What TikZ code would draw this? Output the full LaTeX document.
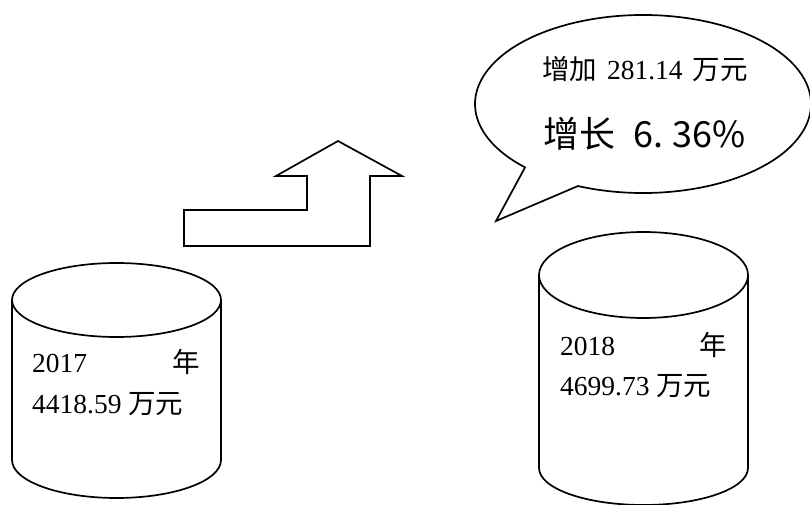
\documentclass[tikz,border=0pt]{standalone}
\usepackage{fontspec}
\usetikzlibrary{calc}
\setmainfont{Liberation Serif}
\newfontfamily\cjk{Noto Sans CJK SC}
\begin{document}
\begin{tikzpicture}[x=1pt,y=1pt,
  outline/.style={draw=black,line width=1.7pt,line join=miter},
  lbl/.style={inner sep=0pt,font=\fontsize{27.5}{32}\selectfont},
  big/.style={inner sep=0pt,font=\fontsize{36}{42}\selectfont\cjk}]
\useasboundingbox (0,0) rectangle (810,504);
% left cylinder
\coordinate (c1t) at (116.5,204);
\coordinate (c1b) at (116.5,44);
\draw[outline] (c1t) ellipse[x radius=104.5,y radius=37];
\draw[outline] ([xshift=-104.5pt]c1t) -- ([xshift=-104.5pt]c1b)
  arc[start angle=180,end angle=360,x radius=104.5,y radius=38]
  -- ([xshift=104.5pt]c1t);
% right cylinder
\coordinate (c2t) at (643.5,229);
\coordinate (c2b) at (643.5,36);
\draw[outline] (c2t) ellipse[x radius=104.5,y radius=43];
\draw[outline] ([xshift=-104.5pt]c2t) -- ([xshift=-104.5pt]c2b)
  arc[start angle=180,end angle=360,x radius=104.5,y radius=37]
  -- ([xshift=104.5pt]c2t);
% arrow
\draw[outline] (184,258) -- (184,294) -- (307,294) -- (307,328) -- (276,328)
  -- (338,363) -- (402,328) -- (370,328) -- (370,258) -- cycle;
% speech bubble
\coordinate (tip) at (496,283);
\coordinate (bc) at (643,400);
\draw[outline] (tip) -- ($(bc)+(247.2:168 and 89)$)
  arc[start angle=247.2,end angle=585.4,x radius=168,y radius=89] -- cycle;
% texts
\node[lbl,anchor=base west] (y1) at (32,132) {2017};
\node[lbl,anchor=base east] (n1) at (200,132) {\cjk 年};
\node[lbl,anchor=base west] (v1) at (32,91) {4418.59 {\cjk 万元}};
\node[lbl,anchor=base west] (y2) at (560,149) {2018};
\node[lbl,anchor=base east] (n2) at (727,149) {\cjk 年};
\node[lbl,anchor=base west] (v2) at (560,109) {4699.73 {\cjk 万元}};
\node[lbl,anchor=base west] (t1) at (542,424) {{\cjk 增加}\hspace{3pt} 281.14\hspace{3pt} {\cjk 万元}};
\node[big,anchor=base west] (t2) at (543,356) {增长\hspace{18pt}6.\hspace{9pt}36\%};
\end{tikzpicture}
\end{document}
